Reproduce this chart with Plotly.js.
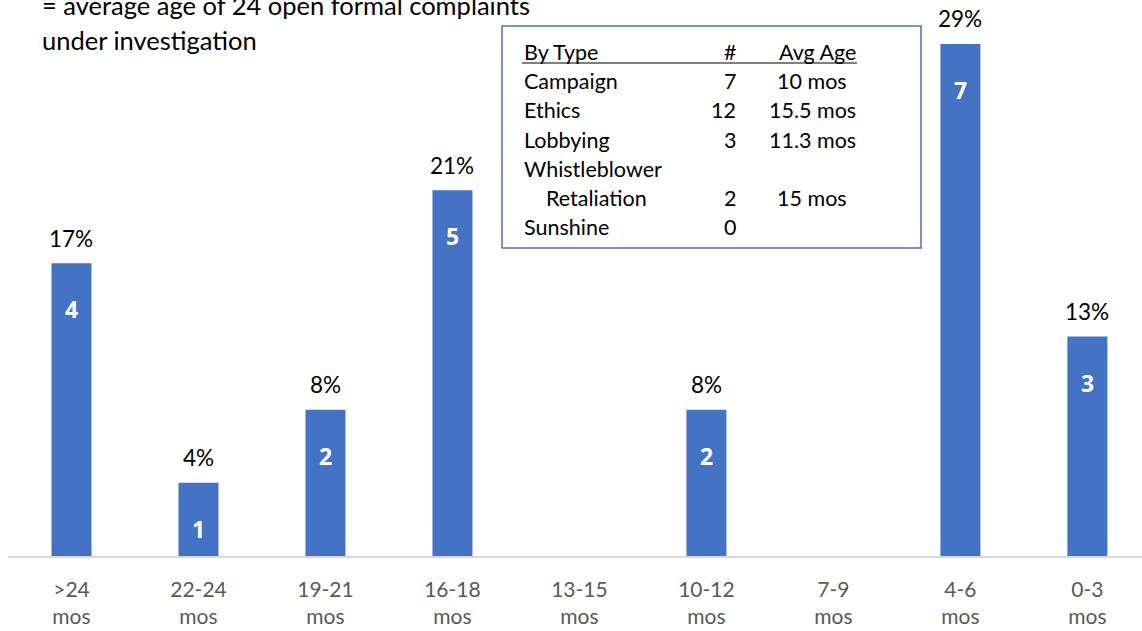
<!DOCTYPE html>
<html>
<head>
<meta charset="utf-8">
<script src="https://cdn.plot.ly/plotly-3.0.1.min.js"></script>
<style>html,body{margin:0;padding:0;background:#fff;}#chart{width:1142px;height:631px;}</style>
</head>
<body>
<div id="chart"></div>
<script>
// ---- data ----
const categories = ['>24<br>mos','22-24<br>mos','19-21<br>mos','16-18<br>mos','13-15<br>mos','10-12<br>mos','7-9<br>mos','4-6<br>mos','0-3<br>mos'];
const counts = [4, 1, 2, 5, 0, 2, 0, 7, 3];
const countLabels = ['4','1','2','5','','2','','7','3'];
const pctLabels = ['17%','4%','8%','21%','','8%','','29%','13%'];
const noteLines = ['= average age of 24 open formal complaints', 'under investigation'];
const tableHeader = ['By Type', '#', 'Avg Age'];
const tableTypes = ['Campaign','Ethics','Lobbying','Whistleblower','Retaliation','Sunshine'];
const tableCounts = ['7','12','3','','2','0'];
const tableAges = ['10 mos','15.5 mos','11.3 mos','','15 mos',''];

// ---- layout helpers ----
const W = 1142, H = 631, ML = 8, MR = 0, MT = 0, MB = 75;
const PW = W - ML - MR, PH = H - MT - MB;
const px = x => (x - ML) / PW;
const py = y => 1 - (y - MT) / PH;
const FONT = 'Lato, "Open Sans", sans-serif';

const annotations = [];
const shapes = [];

// note text (top-left)
noteLines.forEach((t, i) => {
  annotations.push({xref:'paper', yref:'paper', x: px(40), y: py(5 + i*35), xanchor:'left', yanchor:'middle',
    text: t, showarrow:false, font:{family:FONT, size:25.5, color:'#000'}});
});

// table box
shapes.push({type:'rect', xref:'paper', yref:'paper', x0:px(502), x1:px(921), y0:py(26), y1:py(248),
  line:{color:'#4472c4', width:1.5}, fillcolor:'rgba(0,0,0,0)'});
// header underline
shapes.push({type:'line', xref:'paper', yref:'paper', x0:px(522), x1:px(857), y0:py(63), y1:py(63),
  line:{color:'#000', width:1.2}});

const tf = {family:FONT, size:21.5, color:'#000'};
const rowY0 = 52, rowDY = 29.2;
annotations.push({xref:'paper', yref:'paper', x:px(522), y:py(rowY0), xanchor:'left', yanchor:'middle', text:tableHeader[0], showarrow:false, font:tf});
annotations.push({xref:'paper', yref:'paper', x:px(738), y:py(rowY0), xanchor:'right', yanchor:'middle', text:tableHeader[1], showarrow:false, font:tf});
annotations.push({xref:'paper', yref:'paper', x:px(817), y:py(rowY0), xanchor:'center', yanchor:'middle', text:tableHeader[2], showarrow:false, font:tf});
tableTypes.forEach((t, i) => {
  const y = py(rowY0 + (i+1)*rowDY);
  const indent = (i === 4) ? 22 : 0;
  annotations.push({xref:'paper', yref:'paper', x:px(522 + indent), y:y, xanchor:'left', yanchor:'middle', text:t, showarrow:false, font:tf});
  if (tableCounts[i]) annotations.push({xref:'paper', yref:'paper', x:px(738), y:y, xanchor:'right', yanchor:'middle', text:tableCounts[i], showarrow:false, font:tf});
  if (tableAges[i]) annotations.push({xref:'paper', yref:'paper', x:px(812), y:y, xanchor:'center', yanchor:'middle', text:tableAges[i], showarrow:false, font:tf});
});

// bar labels: count (white, inside) and percentage (above), anchored to each bar's data value
categories.forEach((c, i) => {
  if (countLabels[i]) annotations.push({x:c, y:counts[i], xref:'x', yref:'y', yanchor:'middle', yshift:-46,
    text:countLabels[i], showarrow:false, font:{family:'"Open Sans", Lato, sans-serif', size:23, color:'#fff', weight:'bold'}});
  if (pctLabels[i]) annotations.push({x:c, y:counts[i], xref:'x', yref:'y', yanchor:'middle', yshift:25,
    text:pctLabels[i], showarrow:false, font:{family:FONT, size:22.5, color:'#000'}});
});

const bars = {
  type:'bar', x:categories, y:counts, marker:{color:'#4472c4'}, hoverinfo:'skip'
};

const layout = {
  width:W, height:H, margin:{l:ML, r:MR, t:MT, b:MB},
  paper_bgcolor:'#fff', plot_bgcolor:'#fff', showlegend:false, bargap:0.685,
  xaxis:{type:'category', range:[-0.5, 8.43], showline:true, linecolor:'#d9d9d9', linewidth:1.5,
    showgrid:false, zeroline:false, ticks:'', tickfont:{family:FONT, size:21, color:'#595959'},
    ticklabelstandoff:14, fixedrange:true},
  yaxis:{range:[0, 7.6], visible:false, showgrid:false, zeroline:false, fixedrange:true},
  annotations:annotations, shapes:shapes
};
Plotly.newPlot('chart', [bars], layout, {displayModeBar:false, staticPlot:true});
</script>
</body>
</html>
